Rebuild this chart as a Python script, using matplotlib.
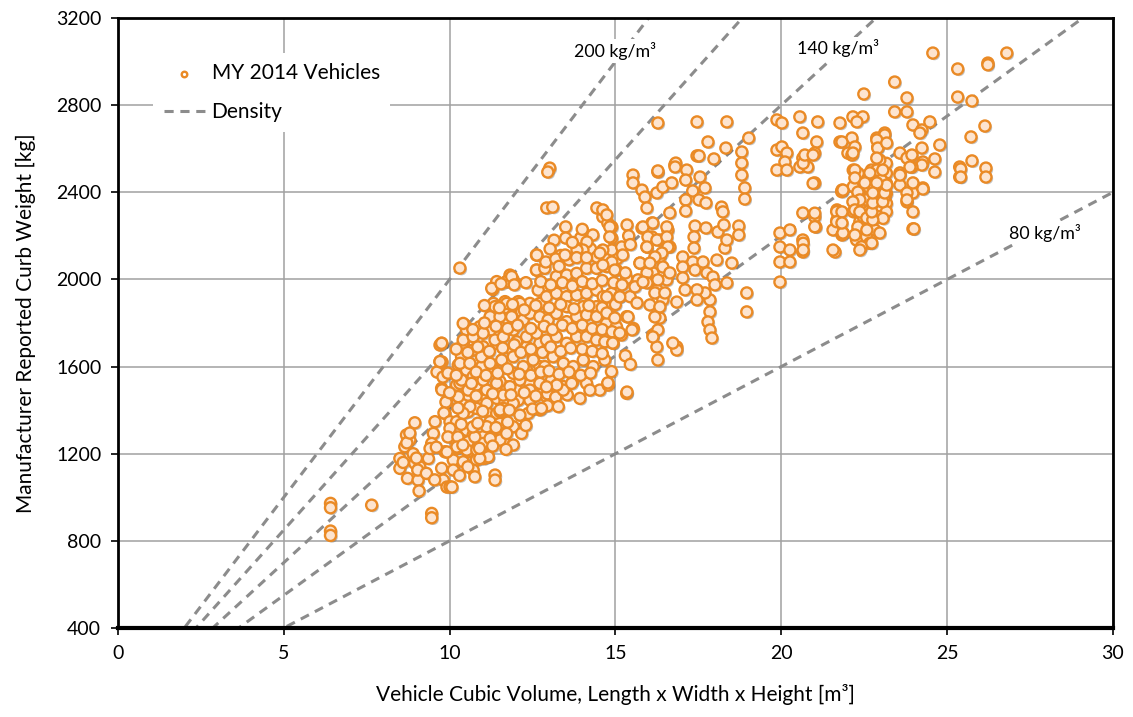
import matplotlib
matplotlib.use('Agg')
import matplotlib.pyplot as plt
import matplotlib.patheffects as pe
import numpy as np

plt.rcParams['font.family'] = ['Lato', 'DejaVu Sans']
plt.rcParams['font.size'] = 14

# vehicle cubic volume [m3], curb weight [kg], grouped by area
small_cars = [(6.41, 972), (6.41, 952), (6.41, 845), (6.41, 825), (7.65, 964), (9.46, 926), (9.46, 906),
              (8.95, 1342), (8.7, 1286), (8.8, 1263), (8.5, 1178), (8.65, 1232), (8.95, 1156), (9.1, 1140),
              (8.5, 1133), (8.73, 1087), (9.05, 1079), (9.08, 1029), (8.71, 1250), (8.8, 1295), (9.04, 1125),
              (8.6, 1160), (8.9, 1200), (9.51, 1293), (9.46, 1247), (9.36, 1178), (9.41, 1224), (9.56, 1347),
              (9.76, 1133), (9.81, 1079), (9.86, 1209), (9.92, 1047), (10.01, 1048), (10.07, 1047), (9.76, 1500),
              (9.91, 1439), (9.86, 1385), (9.71, 1699), (9.77, 1621), (9.62, 1575), (9.8, 1552), (9.77, 1493),
              (9.89, 1437), (9.83, 1387), (9.76, 1707), (9.71, 1623)]

compact_low = [(10.01, 1347), (10.21, 1347), (10.01, 1316), (10.51, 1308), (10.71, 1286), (11.01, 1278),
               (11.27, 1270), (11.62, 1263), (10.21, 1255), (10.56, 1255), (11.01, 1247), (10.11, 1171),
               (10.21, 1224), (10.56, 1209), (10.81, 1171), (11.01, 1178), (11.16, 1186), (10.11, 1125),
               (10.41, 1163), (10.71, 1125), (10.76, 1094), (11.37, 1102), (11.37, 1079), (9.95, 1277),
               (10.25, 1277), (10.22, 1231), (9.92, 1208), (10.52, 1217), (10.76, 1277), (10.7, 1323),
               (10.82, 1217), (11.06, 1180), (11.15, 1194), (10.21, 1515), (10.51, 1507), (10.81, 1515),
               (11.11, 1492), (11.42, 1507), (11.72, 1507), (10.36, 1446), (10.56, 1469), (11.01, 1446),
               (11.42, 1454), (11.67, 1439), (10.56, 1393), (10.81, 1408), (11.11, 1393), (11.42, 1385),
               (11.62, 1408), (11.22, 1347), (11.57, 1339), (11.92, 1324), (11.92, 1240), (11.52, 1263),
               (11.22, 1270), (11.12, 1324), (11.52, 1339), (11.52, 1393), (11.17, 1186), (10.91, 1178),
               (12.17, 1293), (11.72, 1293), (12.07, 1446), (12.37, 1385), (12.12, 1377), (12.42, 1454)]

compact_high = [(12.62, 2112), (11.82, 2020), (11.72, 1990), (11.92, 1997), (11.3, 1954), (11.32, 1890),
                (11.67, 1898), (11.62, 1860), (12.07, 1898), (12.17, 1852), (11.72, 1821), (12.12, 1806),
                (12.62, 2043), (12.82, 1951), (12.72, 1890), (12.92, 1829), (10.46, 1791), (10.51, 1768),
                (10.96, 1783), (11.27, 1768), (11.52, 1745), (11.92, 1768), (10.41, 1707), (10.71, 1676),
                (10.36, 1645), (11.01, 1691), (11.42, 1707), (11.87, 1676), (12.32, 1691), (12.72, 1707),
                (12.52, 1645), (12.92, 1676), (10.26, 1607), (10.51, 1584), (10.71, 1554), (10.31, 1523),
                (10.56, 1492), (10.26, 1462), (10.61, 1416), (10.41, 1385), (10.97, 1600), (11.32, 1584),
                (11.52, 1531), (11.92, 1569), (12.32, 1584), (12.72, 1600), (11.12, 1492), (11.62, 1469),
                (12.02, 1492), (12.42, 1523), (12.82, 1492), (11.12, 1431), (11.52, 1401), (11.92, 1431),
                (12.42, 1446), (12.72, 1401), (12.92, 1462), (10.31, 2052)]

midsize = [(12.62, 2043), (12.87, 2051), (13.22, 2013), (13.53, 2020), (13.83, 2028), (14.13, 2051),
           (14.43, 2051), (14.73, 2059), (15.03, 2043), (15.34, 2005), (15.64, 1982), (11.42, 1990),
           (11.72, 1990), (11.87, 2013), (11.27, 1959), (12.67, 1951), (12.92, 1921), (13.22, 1936),
           (13.53, 1921), (13.83, 1928), (14.13, 1936), (14.43, 1951), (14.63, 1921), (14.88, 1936),
           (15.13, 1921), (15.44, 1921), (12.42, 1890), (12.12, 1890), (11.72, 1890), (11.37, 1875),
           (13.53, 1875), (14.03, 1875), (14.43, 1875), (14.88, 1875), (10.41, 1798), (10.91, 1783),
           (11.22, 1829), (11.52, 1829), (11.87, 1829), (12.22, 1814), (12.42, 1844), (12.72, 1829),
           (12.97, 1814), (13.22, 1844), (13.53, 1806), (13.83, 1829), (14.13, 1837), (14.43, 1829),
           (14.73, 1798), (15.03, 1783), (15.34, 1829), (15.54, 1775), (9.76, 1707), (10.41, 1722),
           (10.71, 1737), (11.01, 1753), (11.37, 1722), (11.62, 1737), (12.02, 1714), (12.32, 1737),
           (12.62, 1753), (12.92, 1722), (13.22, 1737), (13.53, 1707), (13.83, 1737), (14.13, 1737),
           (14.43, 1722), (14.68, 1714), (14.93, 1707), (15.18, 1745), (9.71, 1623), (10.31, 1615),
           (10.61, 1615), (10.96, 1645), (11.22, 1615), (11.57, 1630), (11.92, 1645), (12.22, 1600),
           (12.52, 1630), (12.87, 1600), (13.12, 1645), (13.43, 1615), (13.73, 1600), (14.03, 1630),
           (14.33, 1600), (14.68, 1630), (14.88, 1577), (10.36, 1538), (10.66, 1523), (11.01, 1538),
           (11.42, 1523), (11.82, 1508), (12.12, 1538), (12.42, 1492), (12.72, 1523), (13.07, 1538),
           (13.43, 1508), (13.73, 1538), (14.13, 1523), (14.53, 1492), (14.78, 1523)]

midsize_fill = [(11.55, 1980), (11.95, 1975), (12.3, 1985), (12.75, 1990), (13.05, 1975), (13.4, 1985),
                (13.7, 1970), (14.0, 1990), (14.3, 1980), (14.6, 1995), (14.95, 1985), (15.2, 1975),
                (11.05, 1880), (11.5, 1870), (11.9, 1885), (12.25, 1860), (12.6, 1880), (13.0, 1870),
                (13.35, 1885), (13.75, 1865), (14.2, 1880), (14.6, 1870), (15.0, 1885),
                (10.7, 1770), (11.05, 1800), (11.4, 1785), (11.75, 1775), (12.05, 1790), (12.45, 1775),
                (12.85, 1785), (13.1, 1770), (13.4, 1790), (13.7, 1775), (14.0, 1790), (14.3, 1775),
                (14.6, 1770), (14.9, 1760), (10.2, 1680), (10.55, 1665), (10.85, 1690), (11.2, 1670),
                (11.6, 1685), (11.95, 1700), (12.15, 1665), (12.45, 1680), (12.8, 1665), (13.05, 1690),
                (13.35, 1670), (13.65, 1685), (14.0, 1680), (14.3, 1670), (14.6, 1660), (9.95, 1570),
                (10.2, 1560), (10.8, 1575), (11.1, 1560), (11.45, 1570), (11.75, 1590), (12.1, 1565),
                (12.45, 1560), (12.75, 1575), (13.0, 1580), (13.3, 1565), (13.6, 1575), (13.95, 1560),
                (14.25, 1570), (10.0, 1480), (10.8, 1465), (11.3, 1475), (11.85, 1470), (12.25, 1480),
                (12.6, 1465), (12.95, 1475), (13.2, 1460), (13.55, 1470), (10.25, 1410), (11.0, 1395),
                (11.8, 1400), (12.5, 1405), (12.95, 1420), (10.35, 1335), (10.85, 1340), (11.4, 1320),
                (11.75, 1345), (12.3, 1330), (9.6, 1230), (10.4, 1240), (10.9, 1225), (11.3, 1235),
                (11.7, 1220), (9.3, 1110), (9.55, 1080), (10.3, 1100), (10.55, 1140), (9.0, 1180),
                (12.9, 2080), (13.35, 2110), (13.6, 2090), (14.25, 2140), (14.7, 2110), (15.05, 2095),
                (13.15, 2180), (13.95, 2190)]

midsize_edge = [(14.78, 1515), (15.34, 1477), (13.93, 1454), (14.23, 1492), (13.43, 1492), (13.28, 1416),
                (12.77, 1408), (13.23, 1515), (13.68, 1523), (12.92, 1507), (13.02, 2511), (12.96, 2493),
                (12.93, 2328), (13.11, 2332), (12.63, 2112), (13.2, 2094), (13.5, 2241), (13.5, 2190),
                (14.44, 2328), (14.62, 2287), (14.77, 2259), (14.89, 2241), (14.32, 2204), (14.14, 2172),
                (14.02, 2135), (13.84, 2135), (13.48, 2112), (14.89, 2190), (14.89, 2135), (15.19, 2149),
                (15.22, 2112), (14.62, 2135), (14.44, 2103), (14.89, 2080), (14.62, 2066), (14.98, 2043),
                (15.74, 2075), (14.77, 1525), (15.35, 1483), (13.03, 2140), (13.83, 2100), (14.13, 2100),
                (13.3, 2060), (14.0, 2230), (13.7, 2170)]

large = [(15.53, 2479), (15.53, 2443), (15.8, 2410), (15.89, 2378), (15.95, 2328), (16.25, 2397), (16.43, 2424),
         (16.28, 2493), (16.7, 2443), (16.64, 2305), (16.79, 2525), (15.8, 2236), (16.1, 2259), (16.1, 2195),
         (15.95, 2149), (16.34, 2181), (16.58, 2227), (16.64, 2149), (16.34, 2103), (16.13, 2030),
         (16.43, 2057), (16.55, 1998), (15.95, 1988), (16.25, 1952), (16.04, 1883), (16.43, 1906),
         (16.34, 1823), (16.13, 1745), (16.25, 1690), (16.28, 1630), (16.85, 1690), (16.85, 1676),
         (16.28, 2718), (17.46, 2723), (18.36, 2723), (17.79, 2631), (18.33, 2603), (19.02, 2649),
         (18.81, 2585), (18.81, 2534), (18.81, 2479), (17.46, 2567), (17.52, 2567), (17.97, 2553),
         (16.82, 2534), (16.8, 2516), (16.28, 2498), (17.15, 2502), (17.12, 2456), (17.55, 2470),
         (17.33, 2406), (17.7, 2420), (17.52, 2365), (17.73, 2351), (17.12, 2365), (17.12, 2314),
         (18.2, 2332), (18.24, 2310), (18.9, 2420), (18.9, 2369), (17.4, 2245), (17.73, 2236), (18.09, 2218),
         (18.27, 2250), (18.72, 2245), (18.72, 2204), (18.3, 2144), (18.36, 2181), (18.51, 2075),
         (17.37, 2195), (17.37, 2144), (17.33, 2080), (17.4, 2043), (17.03, 2103), (17.03, 2057),
         (17.03, 2007), (17.1, 1952), (17.64, 2080), (17.76, 2030), (18.06, 2089), (17.94, 2011),
         (18.0, 1975), (18.36, 1984), (17.85, 1906), (17.85, 1851), (17.79, 1805), (17.85, 1768),
         (17.91, 1731), (17.7, 1938), (18.96, 1938), (18.96, 1851), (17.46, 1952), (17.46, 1906),
         (16.85, 1896), (16.19, 1938), (16.34, 1874), (16.19, 1828), (16.28, 1768), (16.13, 1736),
         (16.73, 1708), (16.49, 1938), (16.64, 2030), (16.28, 1998), (15.95, 2030), (15.95, 1984),
         (15.68, 1998), (15.59, 1966), (15.65, 1892), (15.38, 1828), (15.5, 1768), (15.13, 1754),
         (14.92, 1708), (15.13, 1920), (14.74, 1920), (14.74, 1846), (14.98, 1823), (15.83, 2241),
         (16.13, 2259), (15.98, 2195), (16.25, 2181), (16.55, 2241), (16.55, 2195), (16.58, 2149),
         (16.4, 2121), (16.19, 2103), (15.95, 2149), (15.74, 2075), (16.04, 2075), (15.83, 1988),
         (14.83, 2241), (14.83, 2195), (14.62, 2319), (14.74, 2296), (14.53, 2121), (15.35, 2250),
         (15.4, 2200), (15.45, 2160), (15.3, 2030), (15.3, 1650), (15.45, 1610)]

suv_mid = [(19.87, 2732), (20.02, 2718), (20.56, 2746), (21.1, 2723), (20.65, 2672), (21.07, 2631),
           (21.77, 2718), (21.77, 2631), (22.01, 2580), (19.87, 2594), (20.02, 2608), (20.17, 2580),
           (20.11, 2539), (19.87, 2502), (20.17, 2502), (20.56, 2516), (20.8, 2516), (20.65, 2557),
           (21.01, 2580), (21.01, 2443), (21.83, 2410), (20.65, 2305), (21.01, 2287), (21.04, 2241),
           (21.68, 2319), (21.68, 2273), (21.56, 2227), (21.83, 2204), (19.96, 2213), (20.26, 2227),
           (19.96, 2149), (19.96, 2080), (20.26, 2135), (20.26, 2080), (20.65, 2181), (20.65, 2126),
           (19.96, 1988), (21.62, 2126), (21.56, 2135), (20.66, 2166), (20.66, 2135), (20.96, 2441),
           (20.66, 2533), (20.71, 2571), (20.96, 2571), (21.01, 2304), (21.01, 2242), (21.67, 2311),
           (21.67, 2265), (21.87, 2212), (21.82, 2403)]

suv_large = [(22.49, 2851), (23.42, 2906), (23.79, 2833), (23.79, 2769), (23.42, 2769), (22.16, 2746),
             (22.46, 2746), (22.28, 2723), (22.13, 2649), (22.22, 2608), (22.13, 2571), (22.88, 2649),
             (23.12, 2672), (22.91, 2608), (23.97, 2709), (24.24, 2686), (24.48, 2723), (24.24, 2603),
             (23.88, 2562), (23.58, 2580), (23.79, 2557), (24.27, 2539), (24.24, 2525), (23.94, 2516),
             (23.58, 2489), (23.58, 2433), (24.27, 2420), (23.97, 2397), (23.97, 2310), (23.97, 2232),
             (23.79, 2356), (23.79, 2397), (23.17, 2533), (22.97, 2548), (23.17, 2487), (22.92, 2487),
             (22.87, 2441), (23.17, 2441), (23.17, 2395), (22.97, 2350), (23.17, 2350), (22.92, 2311),
             (23.17, 2311), (22.72, 2395), (22.57, 2472), (22.62, 2426), (22.32, 2487), (22.17, 2502),
             (22.17, 2426), (22.32, 2395), (22.22, 2350), (22.17, 2311), (22.42, 2350), (22.57, 2365),
             (22.62, 2311), (22.67, 2265), (22.82, 2227), (22.92, 2288), (22.37, 2265), (22.32, 2227),
             (22.27, 2181), (22.57, 2196), (22.67, 2166), (22.42, 2150), (22.37, 2135), (22.72, 2502),
             (23.02, 2456), (22.77, 2350), (23.07, 2280), (22.47, 2288), (23.12, 2380), (24.0, 2232),
             (24.27, 2415), (23.79, 2365), (23.97, 2443), (23.58, 2479), (23.88, 2516), (23.94, 2571),
             (24.18, 2672), (23.12, 2663), (22.88, 2640), (22.91, 2603), (23.18, 2626), (22.16, 2580),
             (21.83, 2631), (22.88, 2557), (22.88, 2502), (23.06, 2502), (22.67, 2489), (22.22, 2502),
             (22.22, 2466), (22.31, 2401), (21.86, 2410), (22.37, 2365), (22.16, 2356), (22.22, 2319),
             (22.37, 2310), (22.58, 2282), (22.76, 2273), (22.73, 2310), (22.76, 2351), (23.06, 2356),
             (23.12, 2397), (23.18, 2433), (22.88, 2443), (22.52, 2443), (22.76, 2397), (22.31, 2241),
             (22.22, 2204), (22.58, 2227), (22.97, 2213), (22.73, 2167), (21.86, 2213), (21.83, 2310),
             (21.83, 2259)]

vans_trucks = [(24.57, 3039), (25.32, 2966), (26.23, 2993), (26.23, 2985), (26.8, 3039), (25.32, 2837),
               (25.75, 2819), (24.78, 2617), (26.14, 2704), (25.72, 2654), (25.75, 2544), (25.38, 2516),
               (25.38, 2470), (26.17, 2511), (26.17, 2470), (24.63, 2553), (24.63, 2493), (25.41, 2507),
               (25.41, 2470)]

densities = [200, 170, 140, 110, 80]          # kg/m3
density_labels = {200: (15.0, 3050), 140: (21.7, 3060), 80: (27.95, 2215)}

x_ticks = np.arange(0, 31, 5)
y_ticks = np.arange(400, 3201, 400)

groups = [small_cars, compact_low, compact_high, midsize, midsize_fill, midsize_edge, large,
          suv_mid, suv_large, vans_trucks]
pts = np.array([p for g in groups for p in g])
vol, wt = pts[:, 0], pts[:, 1]

fig = plt.figure(figsize=(11.33, 7.17), dpi=100)
ax = fig.add_axes([0.1041, 0.1241, 0.8782, 0.8508])

ax.grid(True, color='#a0a0a0', linewidth=1.1, zorder=0)
ax.set_axisbelow(True)

xx = np.linspace(0, 30, 200)
for i, d in enumerate(densities):
    ax.plot(xx, d * xx, color='#8c8c8c', linewidth=2.2, linestyle=(0, (3, 2.2)), zorder=2,
            label='Density' if i == 0 else None)

sc = ax.scatter(vol, wt, s=64, facecolor='#fde4cf', edgecolor='#ea8a25', linewidths=1.7,
                zorder=3, label='MY 2014 Vehicles')
sc.set_path_effects([pe.SimplePatchShadow(offset=(1.2, -1.2), shadow_rgbFace='#555555', alpha=0.35),
                     pe.Normal()])

for d, (tx, ty) in density_labels.items():
    ax.text(tx, ty, '%d kg/m³' % d, fontsize=12.8, ha='center', va='center', zorder=4,
            bbox=dict(facecolor='white', edgecolor='none', pad=2))

ax.set_xlim(0, 30)
ax.set_ylim(400, 3200)
ax.set_xticks(x_ticks)
ax.set_yticks(y_ticks)
ax.tick_params(axis='both', labelsize=14, length=5, width=1.2, direction='out', pad=7)
for s in ['left', 'right', 'top']:
    ax.spines[s].set_linewidth(2)
ax.spines['bottom'].set_linewidth(3)

ax.set_xlabel('Vehicle Cubic Volume, Length x Width x Height [m³]', fontsize=15, labelpad=16)
ax.set_ylabel('Manufacturer Reported Curb Weight [kg]', fontsize=15, labelpad=14)

h, l = ax.get_legend_handles_labels()
leg = ax.legend(h[::-1], l[::-1], loc='upper left', bbox_to_anchor=(0.025, 0.96), fontsize=15,
                frameon=True, fancybox=False, framealpha=1, edgecolor='none', handlelength=2.0,
                handletextpad=0.3, labelspacing=0.9, borderpad=0.5, markerscale=0.5)
leg.legend_handles[0].set_path_effects([])
leg.legend_handles[0].set_facecolor('white')

fig.savefig('out.png', dpi=100)
